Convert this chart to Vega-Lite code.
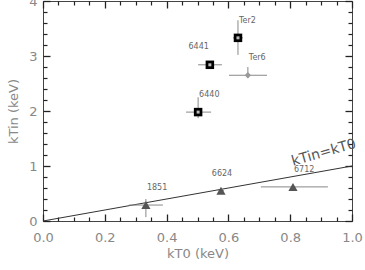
{
  "$schema": "https://vega.github.io/schema/vega-lite/v6.json",
  "width": 309,
  "height": 220,
  "autosize": {"type": "none"},
  "padding": {"left": 43, "top": 1, "right": 13, "bottom": 49},
  "background": "white",
  "config": {
    "view": {"stroke": "#444", "strokeWidth": 1},
    "axis": {
      "grid": false,
      "domain": false,
      "ticks": true,
      "tickColor": "#222",
      "tickOpacity": 1,
      "tickWidth": 1,
      "labelColor": "#888",
      "titleColor": "#888",
      "labelFont": "DejaVu Sans",
      "titleFont": "DejaVu Sans",
      "labelFontSize": 13,
      "titleFontSize": 13,
      "titleFontWeight": "normal",
      "labelFontWeight": "normal",
      "labelFlush": false,
      "labelOverlap": false,
      "labelBound": false
    }
  },
  "datasets": {
    "pts": [
      {"name": "Ter2", "kT0": 0.631, "kTin": 3.33, "kT0_lo": 0.615, "kT0_hi": 0.647, "kTin_lo": 3.02, "kTin_hi": 3.65, "group": "square"},
      {"name": "6441", "kT0": 0.540, "kTin": 2.84, "kT0_lo": 0.502, "kT0_hi": 0.579, "kTin_lo": 2.80, "kTin_hi": 2.88, "group": "square"},
      {"name": "Ter6", "kT0": 0.663, "kTin": 2.65, "kT0_lo": 0.602, "kT0_hi": 0.725, "kTin_lo": 2.60, "kTin_hi": 2.80, "group": "diamond"},
      {"name": "6440", "kT0": 0.502, "kTin": 1.98, "kT0_lo": 0.463, "kT0_hi": 0.544, "kTin_lo": 1.87, "kTin_hi": 2.25, "group": "square"},
      {"name": "1851", "kT0": 0.333, "kTin": 0.29, "kT0_lo": 0.278, "kT0_hi": 0.388, "kTin_lo": 0.07, "kTin_hi": 0.40, "group": "triangle"},
      {"name": "6624", "kT0": 0.576, "kTin": 0.55, "kT0_lo": 0.566, "kT0_hi": 0.586, "kTin_lo": 0.50, "kTin_hi": 0.60, "group": "triangle"},
      {"name": "6712", "kT0": 0.809, "kTin": 0.62, "kT0_lo": 0.705, "kT0_hi": 0.922, "kTin_lo": 0.58, "kTin_hi": 0.66, "group": "triangle"}
    ],
    "line": [{"x": 0, "y": 0, "x2": 1, "y2": 1, "label": "kTin=kT0", "lx": 0.925, "ly": 0.925}]
  },
  "layer": [
    {
      "data": {"name": "line"},
      "mark": {"type": "rule", "color": "#333", "strokeWidth": 1},
      "encoding": {
        "x": {"field": "x", "type": "quantitative", "scale": {"domain": [0, 1], "nice": false, "zero": false},
          "axis": {"orient": "bottom", "title": "kT0 (keV)", "titlePadding": 3,
            "values": [0, 0.2, 0.4, 0.6, 0.8, 1.0], "format": ".1f", "ticks": true,
            "offset": -7, "tickSize": 7, "tickWidth": 1.3, "labelPadding": 10}},
        "x2": {"field": "x2"},
        "y": {"field": "y", "type": "quantitative", "scale": {"domain": [0, 4], "nice": false, "zero": false},
          "axis": {"orient": "left", "title": "kTin (keV)", "titlePadding": 8,
            "values": [0, 1, 2, 3, 4], "format": "d", "ticks": true,
            "offset": -7, "tickSize": 7, "tickWidth": 1.3, "labelPadding": 6}},
        "y2": {"field": "y2"}
      }
    },
    {
      "data": {"name": "pts"},
      "mark": {"type": "rule", "color": "#888", "strokeWidth": 1},
      "encoding": {
        "x": {"field": "kT0_lo", "type": "quantitative",
          "axis": {"orient": "top", "title": null, "labels": false, "ticks": true, "values": [0, 0.2, 0.4, 0.6, 0.8, 1.0], "offset": -7, "tickSize": 7, "tickWidth": 1.3}},
        "x2": {"field": "kT0_hi"},
        "y": {"field": "kTin", "type": "quantitative",
          "axis": {"orient": "right", "title": null, "labels": false, "ticks": true, "values": [0, 1, 2, 3, 4], "offset": -7, "tickSize": 7, "tickWidth": 1.3}}
      }
    },
    {
      "data": {"name": "pts"},
      "mark": {"type": "rule", "color": "#888", "strokeWidth": 1},
      "encoding": {
        "x": {"field": "kT0", "type": "quantitative",
          "axis": {"orient": "bottom", "title": null, "labels": false, "ticks": true, "offset": -4, "tickSize": 4, "tickWidth": 1.2,
            "values": [0.05,0.1,0.15,0.25,0.3,0.35,0.45,0.5,0.55,0.65,0.7,0.75,0.85,0.9,0.95]}},
        "y": {"field": "kTin_lo", "type": "quantitative",
          "axis": {"orient": "left", "title": null, "labels": false, "ticks": true, "offset": -4, "tickSize": 4, "tickWidth": 1.2,
            "values": [0.2,0.4,0.6,0.8,1.2,1.4,1.6,1.8,2.2,2.4,2.6,2.8,3.2,3.4,3.6,3.8]}},
        "y2": {"field": "kTin_hi"}
      }
    },
    {
      "data": {"name": "pts"},
      "transform": [{"filter": "datum.group === 'square'"}],
      "mark": {"type": "point", "shape": "square", "filled": true, "color": "#000", "size": 72, "opacity": 1},
      "encoding": {
        "x": {"field": "kT0", "type": "quantitative",
          "axis": {"orient": "top", "title": null, "labels": false, "ticks": true, "offset": -4, "tickSize": 4, "tickWidth": 1.2,
            "values": [0.05,0.1,0.15,0.25,0.3,0.35,0.45,0.5,0.55,0.65,0.7,0.75,0.85,0.9,0.95]}},
        "y": {"field": "kTin", "type": "quantitative",
          "axis": {"orient": "right", "title": null, "labels": false, "ticks": true, "offset": -4, "tickSize": 4, "tickWidth": 1.2,
            "values": [0.2,0.4,0.6,0.8,1.2,1.4,1.6,1.8,2.2,2.4,2.6,2.8,3.2,3.4,3.6,3.8]}}
      }
    },
    {
      "data": {"name": "pts"},
      "transform": [{"filter": "datum.group === 'square'"}],
      "mark": {"type": "point", "shape": "square", "filled": true, "color": "#bbb", "size": 9, "opacity": 1},
      "encoding": {
        "x": {"field": "kT0", "type": "quantitative", "axis": null},
        "y": {"field": "kTin", "type": "quantitative", "axis": null}
      }
    },
    {
      "data": {"name": "pts"},
      "transform": [{"filter": "datum.group === 'diamond'"}],
      "mark": {"type": "point", "shape": "diamond", "filled": true, "color": "#999", "size": 40, "opacity": 1},
      "encoding": {
        "x": {"field": "kT0", "type": "quantitative", "axis": null},
        "y": {"field": "kTin", "type": "quantitative", "axis": null}
      }
    },
    {
      "data": {"name": "pts"},
      "transform": [{"filter": "datum.group === 'triangle'"}],
      "mark": {"type": "point", "shape": "triangle-up", "filled": true, "color": "#555", "size": 85, "opacity": 1},
      "encoding": {
        "x": {"field": "kT0", "type": "quantitative", "axis": null},
        "y": {"field": "kTin", "type": "quantitative", "axis": null}
      }
    },
    {
      "data": {"name": "pts"},
      "transform": [{"filter": "datum.name !== '6441' && datum.name !== '6624'"}],
      "mark": {"type": "text", "align": "left", "baseline": "middle", "dx": 1, "dy": -17, "fontSize": 8, "font": "DejaVu Sans", "color": "#666"},
      "encoding": {
        "x": {"field": "kT0", "type": "quantitative", "axis": null},
        "y": {"field": "kTin", "type": "quantitative", "axis": null},
        "text": {"field": "name"}
      }
    },
    {
      "data": {"name": "pts"},
      "transform": [{"filter": "datum.name === '6441'"}],
      "mark": {"type": "text", "align": "right", "baseline": "middle", "dx": -1, "dy": -18, "fontSize": 8, "font": "DejaVu Sans", "color": "#666"},
      "encoding": {
        "x": {"field": "kT0", "type": "quantitative", "axis": null},
        "y": {"field": "kTin", "type": "quantitative", "axis": null},
        "text": {"field": "name"}
      }
    },
    {
      "data": {"name": "pts"},
      "transform": [{"filter": "datum.name === '6624'"}],
      "mark": {"type": "text", "align": "center", "baseline": "middle", "dx": 1, "dy": -17, "fontSize": 8, "font": "DejaVu Sans", "color": "#666"},
      "encoding": {
        "x": {"field": "kT0", "type": "quantitative", "axis": null},
        "y": {"field": "kTin", "type": "quantitative", "axis": null},
        "text": {"field": "name"}
      }
    },
    {
      "data": {"name": "line"},
      "mark": {"type": "text", "align": "center", "baseline": "middle", "angle": 344, "dy": -18, "fontSize": 14, "font": "DejaVu Sans", "color": "#555"},
      "encoding": {
        "x": {"field": "lx", "type": "quantitative", "axis": null},
        "y": {"field": "ly", "type": "quantitative", "axis": null},
        "text": {"field": "label"}
      }
    }
  ],
  "resolve": {"axis": {"x": "independent", "y": "independent"}}
}
